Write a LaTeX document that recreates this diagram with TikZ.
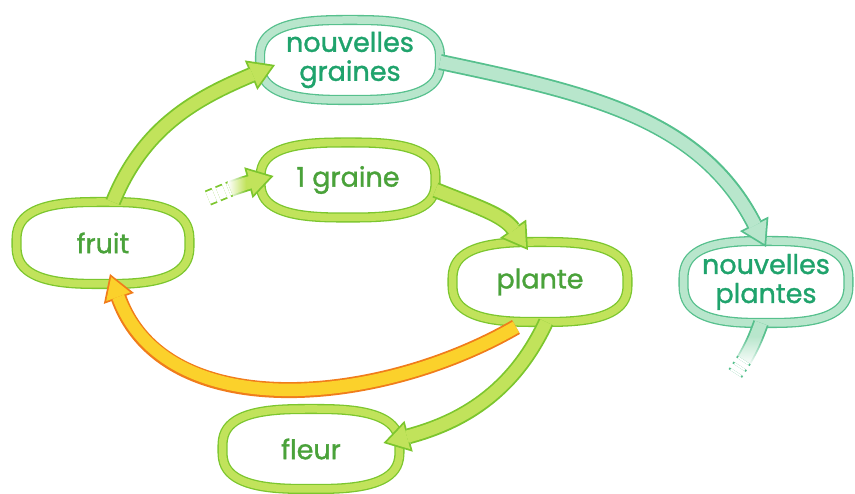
\documentclass[tikz,border=0pt]{standalone}
\usepackage{fontspec}
\setmainfont{Poppins}
\newfontfamily\stagefont{Poppins}[FakeBold=1.2]
\usepackage{xcolor}
\usepackage{tikz}
\usetikzlibrary{positioning,arrows.meta,calc,backgrounds,fadings}
\definecolor{leaf}{HTML}{C1E35B}
\definecolor{leafline}{HTML}{7CC62E}
\definecolor{leafink}{HTML}{4AA23A}
\definecolor{mint}{HTML}{B8E6CC}
\definecolor{mintline}{HTML}{56C08D}
\definecolor{mintink}{HTML}{1FA36C}
\definecolor{sun}{HTML}{FBD12B}
\definecolor{sunline}{HTML}{F07C1B}
\tikzfading[name=fadeleft, left color=transparent!0, right color=transparent!100]
\tikzfading[name=fadedown, top color=transparent!100, bottom color=transparent!0]
\tikzset{
  stage/.style={minimum width=175pt, minimum height=80pt, inner sep=0pt, outer sep=0pt,
    align=center, font=\stagefont\fontsize{27}{29}\selectfont, text=leafink},
  newstage/.style={stage, text=mintink},
  ring/.style={draw=#1line, line width=1.3pt, double=#1, double distance=7.5pt, fill=white},
  flow/.style 2 args={draw=#1, line width=12.4pt, shorten >=3.4pt,
    -{Triangle[length=20.8pt,width=25.6pt,line width=0pt]},
    preaction={draw=#2, line width=16pt, shorten >=0pt,
      -{Triangle[length=26pt,width=32pt,line width=0pt]}}},
  leafflow/.style={flow={leaf}{leafline}},
  mintflow/.style={flow={mint}{mintline}},
  sunflow/.style={flow={sun}{sunline}},
  shaft/.style 2 args={draw=#1, line width=12.4pt,
    preaction={draw=#2, line width=16pt}},
  trail/.style={draw=#1, line width=1.8pt, double=white, double distance=12.4pt,
    dash pattern=on 7pt off 4pt},
  fadeout/.style={fill=white, path fading=#1}
}
\begin{document}
\begin{tikzpicture}[x=1pt,y=1pt]
  \useasboundingbox (0,0) rectangle (855,494);
  % the stages of the cycle
  \node[newstage, minimum width=180pt] (graines) at (350,434) {nouvelles\\graines};
  \node[stage, minimum height=75pt] (graine) at (348,314) {1 graine};
  \node[stage, minimum width=173pt, minimum height=82pt] (fruit) at (103,251) {fruit};
  \node[stage] (plante) at (540,212) {plante};
  \node[newstage, minimum width=165pt, minimum height=82pt] (plantes) at (766,212) {nouvelles\\plantes};
  \node[stage, minimum width=177pt] (fleur) at (311,45) {fleur};
  % rings behind the names
  \begin{scope}[on background layer]
    \foreach \s/\c in {graines/mint, graine/leaf, fruit/leaf, plante/leaf, plantes/mint, fleur/leaf}
      \draw[ring=\c, shift={(\s.center)}] let \p1=($(\s.north east)-(\s.center)$) in
        plot[variable=\t, domain=2.5:362.5, samples=73, smooth]
        ({\x1*sign(cos(\t))*abs(cos(\t))^0.7},{\y1*sign(sin(\t))*abs(sin(\t))^0.7}) -- cycle;
  \end{scope}
  % loose ends
  \coordinate (seedin) at (208,296);
  \coordinate (seedtail) at (230,305);
  \coordinate (plantstail) at (744,134);
  \coordinate (plantsout) at (733,117);
  % arrows
  \draw[leafflow] (seedtail) to[out=20,in=195] ([shift={(13pt,4pt)}]graine.west);
  \fill[fadeout=fadeleft] ([shift={(-2pt,-12pt)}]seedtail) rectangle ([shift={(16pt,12pt)}]seedtail);
  \draw[trail=leafline] (seedin) -- (seedtail);
  \draw[leafflow] ([yshift=-10pt]graine.east) to[out=-22,in=125] ([shift={(-12pt,-8pt)}]plante.north);
  \draw[leafflow] ([xshift=6pt]plante.south) to[out=245,in=15] ([shift={(-16pt,6pt)}]fleur.east);
  \draw[sunflow] ([shift={(-24pt,-5pt)}]plante.south) to[out=210,in=-70] ([shift={(7pt,10pt)}]fruit.south);
  \draw[leafflow] ([xshift=10pt]fruit.north) to[out=68,in=203] ([shift={(15pt,-5pt)}]graines.west);
  \draw[mintflow] ([yshift=-2pt]graines.east) to[out=-12,in=117] ([yshift=-6pt]plantes.north);
  \draw[shaft={mint}{mintline}] ([xshift=-5pt]plantes.south) to[out=250,in=60] (plantstail);
  \fill[fadeout=fadedown] ([shift={(-14pt,-6pt)}]plantstail) rectangle ([shift={(22pt,24pt)}]plantstail);
  \draw[trail=mintline, dash pattern=on 2pt off 5pt] (plantstail) -- (plantsout);
\end{tikzpicture}
\end{document}
